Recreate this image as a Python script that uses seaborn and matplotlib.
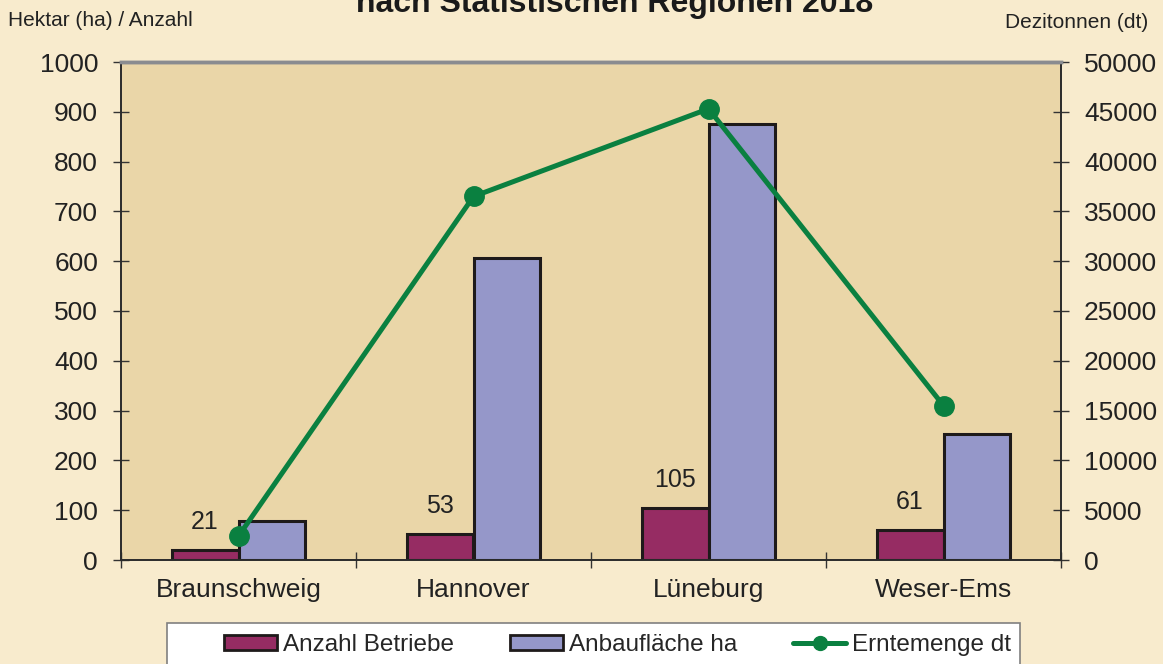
import pandas as pd
import matplotlib.pyplot as plt
import seaborn as sns
from matplotlib.patches import Patch, Rectangle
from matplotlib.lines import Line2D

# Data
regionen = ["Braunschweig", "Hannover", "Lüneburg", "Weser-Ems"]
anzahl_betriebe = [21, 53, 105, 61]
anbauflaeche_ha = [78, 606, 875, 253]
erntemenge_dt = [2400, 36500, 45300, 15500]

serien = ["Anzahl Betriebe", "Anbaufläche ha"]
farben = ["#962C63", "#9597C9"]
gruen = "#0A8040"

df = pd.DataFrame({
    "Region": regionen * 2,
    "Serie": [serien[0]] * 4 + [serien[1]] * 4,
    "Wert": anzahl_betriebe + anbauflaeche_ha,
})

sns.set_style("ticks")
plt.rcParams["font.family"] = ["Liberation Sans", "DejaVu Sans"]

fig = plt.figure(figsize=(11.63, 6.64), dpi=100, facecolor="#F8EBCD")
ax = fig.add_axes([121 / 1163, 1 - 560 / 664, 940 / 1163, 498 / 664])
ax.set_facecolor("#EAD6A8")

sns.barplot(data=df, x="Region", y="Wert", hue="Serie", palette=farben, saturation=1,
            width=0.57, edgecolor="#1E1A1A", linewidth=2.2, ax=ax, legend=False)
ax.bar_label(ax.containers[0], labels=[str(v) for v in anzahl_betriebe],
             padding=11, fontsize=18, color="#222222")

ax.set_ylim(0, 1000)
ax.set_xlim(-0.5, 3.5)
ax.set_yticks(range(0, 1001, 100))
ax.set_xlabel("")
ax.set_ylabel("")
ax.set_xticks([0, 1, 2, 3])
ax.set_xticklabels(regionen)
ax.set_xticks([-0.5, 0.5, 1.5, 2.5, 3.5], minor=True)
ax.tick_params(axis="x", which="major", length=0, labelsize=19, pad=13, labelcolor="#222222")
ax.tick_params(axis="x", which="minor", direction="inout", length=11, width=1, color="#333333")
ax.tick_params(axis="y", direction="inout", length=11, width=1, color="#333333",
               labelsize=19, labelcolor="#222222", pad=11)

ax2 = ax.twinx()
ax2.plot(range(len(regionen)), erntemenge_dt, color=gruen, linewidth=3.6,
         marker="o", markersize=14, zorder=5)
ax2.set_ylim(0, 50000)
ax2.set_yticks(range(0, 50001, 5000))
ax2.tick_params(axis="y", direction="inout", length=11, width=1, color="#333333",
                labelsize=19, labelcolor="#222222", pad=11)

for a in (ax, ax2):
    for s in ("left", "bottom", "right"):
        a.spines[s].set_color("#2A2A2A")
        a.spines[s].set_linewidth(1.2)
        a.spines[s].set_visible(True)
    a.spines["top"].set_visible(True)
    a.spines["top"].set_color("#8A8C90")
    a.spines["top"].set_linewidth(2.5)

fig.text(8 / 1163, 1 - 20 / 664, "Hektar (ha) / Anzahl", fontsize=15,
         color="#222222", va="center", ha="left")
fig.text(1148 / 1163, 1 - 23 / 664, "Dezitonnen (dt)", fontsize=15,
         color="#222222", va="center", ha="right")
fig.text(615 / 1163, 1 - 12 / 664, "nach Statistischen Regionen 2018",
         fontsize=23, fontweight="bold", color="#1A1A1A", ha="center", va="baseline")

# legend box (cut off at the bottom edge like in the original)
fig.patches.append(Rectangle((167 / 1163, -0.05), 853 / 1163, 1 - 623 / 664 + 0.05,
                             transform=fig.transFigure, facecolor="white",
                             edgecolor="#808080", linewidth=1.2, zorder=0))

handles = [
    Patch(facecolor=farben[0], edgecolor="#1E1A1A", linewidth=2),
    Patch(facecolor=farben[1], edgecolor="#1E1A1A", linewidth=2),
    Line2D([0], [0], color=gruen, linewidth=3.6, marker="o", markersize=10),
]
leg = fig.legend(handles, serien + ["Erntemenge dt"], ncol=3, loc="center left",
                 bbox_to_anchor=(224 / 1163, 1 - 645 / 664),
                 borderaxespad=0, borderpad=0, fontsize=17.5, frameon=False,
                 handlelength=2.18, handleheight=0.62, handletextpad=0.25,
                 columnspacing=2.3)

fig.savefig("out.png", dpi=100, facecolor=fig.get_facecolor())
